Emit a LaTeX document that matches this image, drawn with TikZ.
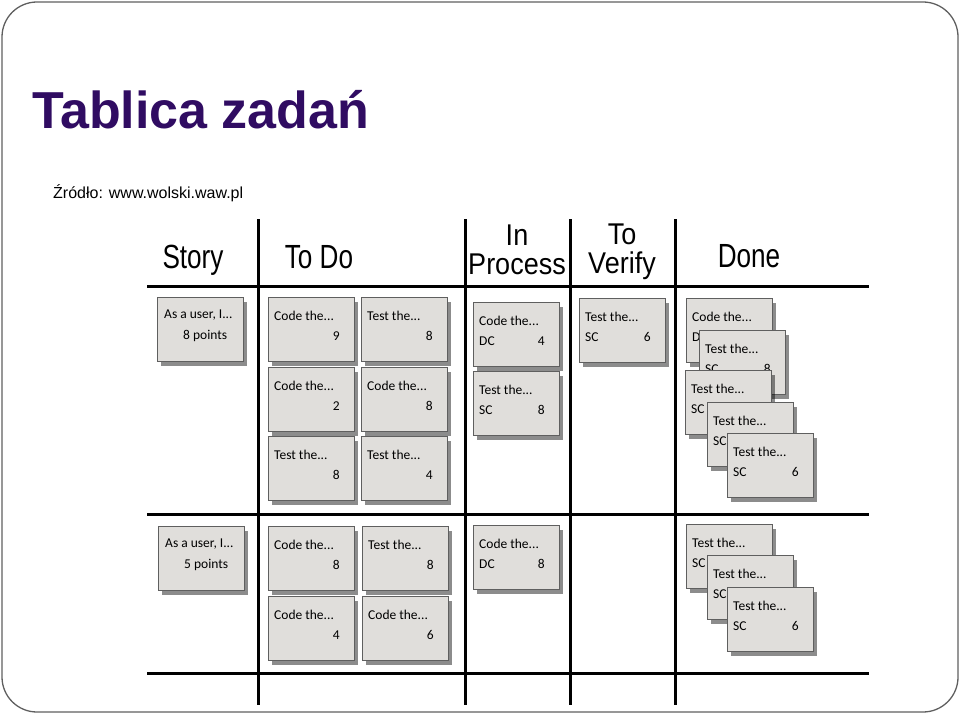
\documentclass[tikz,border=0pt]{standalone}
\usepackage{fontspec}
\setmainfont{Liberation Sans}
\newfontfamily\hand{Carlito}
\usetikzlibrary{shadows}
\definecolor{titlecol}{RGB}{48,12,98}
\definecolor{cardfill}{RGB}{224,222,219}
\definecolor{cardedge}{RGB}{95,95,95}
\definecolor{framecol}{RGB}{95,95,95}
\tikzset{
 card/.style={draw=cardedge, line width=1pt, fill=cardfill, anchor=north west,
   minimum width=86pt, minimum height=64pt, inner sep=0pt,
   drop shadow={shadow xshift=3pt, shadow yshift=-4pt, fill=black, opacity=0.45}},
 ctext/.style={inner sep=0pt, font=\hand\fontsize{13.5}{15}\selectfont, text=black},
 head/.style={inner sep=0pt, anchor=base, font=\fontsize{33.5}{36}\selectfont},
 head2/.style={inner sep=0pt, anchor=base, align=center, font=\fontsize{30}{28.5}\selectfont},
 gridline/.style={line width=3pt, black},
}
\newcommand\kcard[5]{%
 \node[card] (#1) at (#2) {};
 \node[ctext, anchor=base west] (#1a) at ([shift={(6,23)}]#1.north west) {#3};
 \node[ctext, anchor=base west] (#1b) at ([shift={(6,43)}]#1.north west) {#4};
 \node[ctext, anchor=base east] (#1c) at ([shift={(-15,43)}]#1.north east) {#5};
}
\newcommand\scard[3]{%
 \node[card] (#1) at (#2) {};
 \node[ctext, anchor=base west] (#1a) at ([shift={(7,21)}]#1.north west) {As a user, I...};
 \node[ctext, anchor=base west] (#1b) at ([shift={(26,42)}]#1.north west) {#3};
}
\begin{document}
\begin{tikzpicture}[x=1pt,y=-1pt]
\useasboundingbox (0,0) rectangle (960,714);
% slide frame
\draw[framecol, line width=1.3pt, rounded corners=35pt] (2,2) rectangle (958,712);
% title
\node[anchor=base west, inner sep=0pt, text=titlecol, font=\bfseries\fontsize{52}{60}\selectfont] (title) at (32,129) {Tablica zadań};
\node[anchor=base west, inner sep=0pt, font=\fontsize{16}{19}\selectfont] (src) at (53,198) {Źródło: www.wolski.waw.pl};
% grid
\draw[gridline] (147,286) -- (869,286);
\draw[gridline] (147,514) -- (869,514);
\draw[gridline] (147,673) -- (869,673);
\draw[gridline] (258,219) -- (258,705);
\draw[gridline] (465,219) -- (465,705);
\draw[gridline] (570,219) -- (570,705);
\draw[gridline] (675,219) -- (675,705);
% headers
\node[head] (hstory) at (193,268) {\scalebox{0.78}[1]{Story}};
\node[head] (htodo) at (319,268) {\scalebox{0.78}[1]{To Do}};
\node[head2] (hproc) at (517,274) {\scalebox{0.9}[1]{In}\\\scalebox{0.9}[1]{Process}};
\node[head2] (hver) at (622,273) {\scalebox{0.9}[1]{To}\\\scalebox{0.9}[1]{Verify}};
\node[head] (hdone) at (749,267) {\scalebox{0.78}[1]{Done}};
% row 1
\scard{s1}{157,297}{8 points}
\kcard{t1}{268,297}{Code the...}{}{9}
\kcard{t2}{361,297}{Test the...}{}{8}
\kcard{t3}{268,367}{Code the...}{}{2}
\kcard{t4}{361,367}{Code the...}{}{8}
\kcard{t5}{268,436}{Test the...}{}{8}
\kcard{t6}{361,436}{Test the...}{}{4}
\kcard{p1}{473,302}{Code the...}{DC}{4}
\kcard{p2}{473,371}{Test the...}{SC}{8}
\kcard{v1}{579,298}{Test the...}{SC}{6}
\kcard{d1}{686,298}{Code the...}{DC}{}
\kcard{d2}{699,330}{Test the...}{SC}{8}
\kcard{d3}{685,370}{Test the...}{SC}{}
\kcard{d4}{707,402}{Test the...}{SC}{}
\kcard{d5}{727,433}{Test the...}{SC}{6}
% row 2
\scard{s2}{158,526}{5 points}
\kcard{t7}{268,526}{Code the...}{}{8}
\kcard{t8}{362,526}{Test the...}{}{8}
\kcard{t9}{268,596}{Code the...}{}{4}
\kcard{t10}{362,596}{Code the...}{}{6}
\kcard{p3}{473,525}{Code the...}{DC}{8}
\kcard{e1}{686,524}{Test the...}{SC}{}
\kcard{e2}{707,555}{Test the...}{SC}{}
\kcard{e3}{727,587}{Test the...}{SC}{6}
\end{tikzpicture}
\end{document}
